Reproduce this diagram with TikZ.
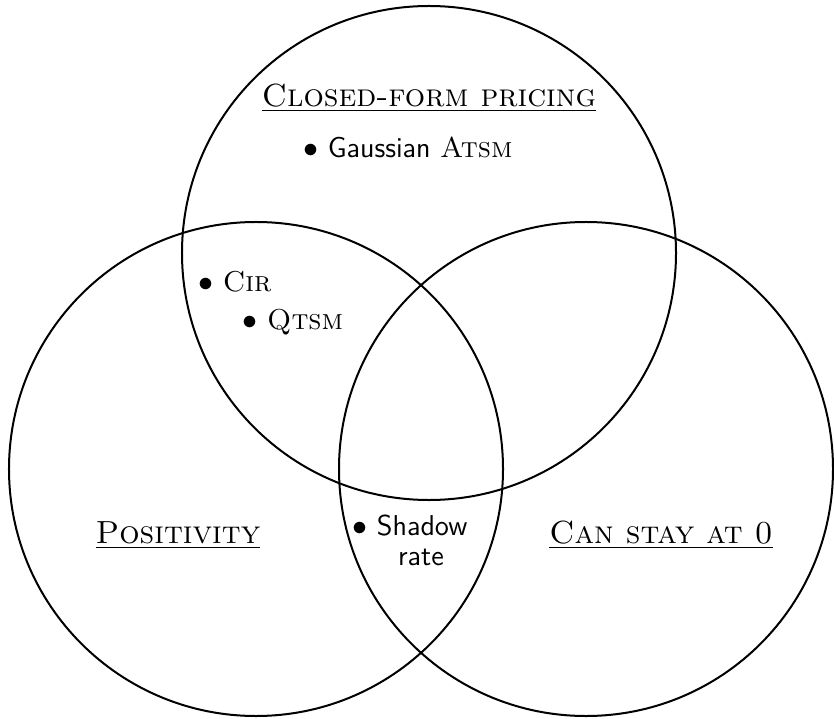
\documentclass[tikz,border=0pt]{standalone}
\begin{document}
\begin{tikzpicture}[x=0.4pt,y=-0.4pt,
  venn/.style={draw,thick},
  head/.style={inner sep=0pt,anchor=center,font=\fontsize{12.8}{15}\selectfont},
  item/.style={inner sep=0pt,anchor=center,font=\fontsize{11.5}{12}\selectfont}]
\useasboundingbox (0,0) rectangle (834,719);
\draw[venn] (429,253) circle [radius=98.8pt];
\draw[venn] (256,469) circle [radius=98.8pt];
\draw[venn] (586,469) circle [radius=98.8pt];
\node[head] (cf) at (429,98) {\underline{\textsc{Closed-form pricing}}};
\node[item] (ga) at (408,147) {$\bullet$ \textsf{Gaussian} \textsc{Atsm}};
\node[item] (cir) at (235,282) {$\bullet$ \textsc{Cir}};
\node[item] (qt) at (293,322) {$\bullet$ \textsc{Qtsm}};
\node[item,align=center] (sr) at (410,540) {$\bullet$ \textsf{Shadow}\\\hspace*{8.8pt}\textsf{rate}};
\node[head] (pos) at (178,535) {\underline{\textsc{Positivity}}};
\node[head] (can) at (661,535) {\underline{\textsc{Can stay at 0}}};
\end{tikzpicture}
\end{document}
